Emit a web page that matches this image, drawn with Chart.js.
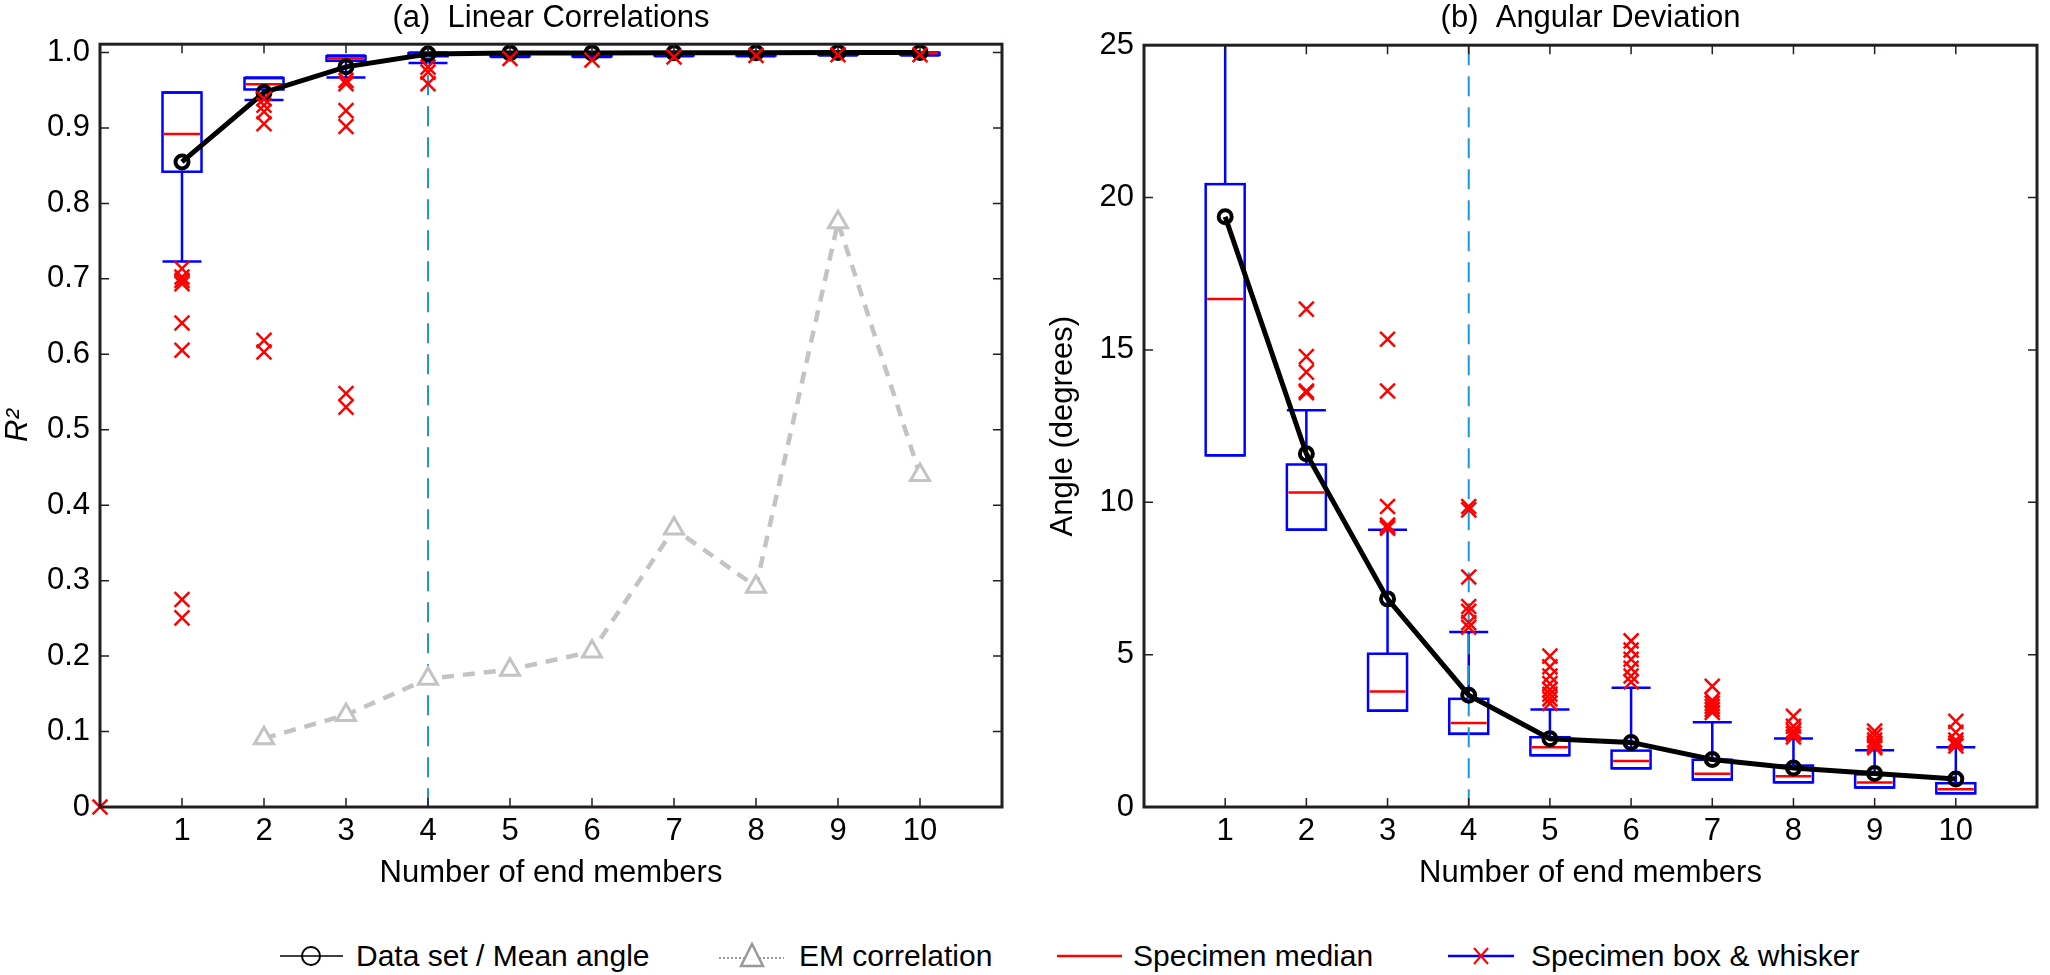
<!DOCTYPE html>
<html>
<head>
<meta charset="utf-8">
<script src="https://cdn.jsdelivr.net/npm/chart.js@4.4.1/dist/chart.umd.min.js"></script>
<style>
  html, body { margin: 0; padding: 0; background: #fff; }
  body { width: 2050px; height: 975px; position: relative; overflow: hidden;
         font-family: 'Liberation Sans', Arial, sans-serif; }
  canvas { position: absolute; top: 0; }
  #chartA { left: 0; }
  #chartB { left: 1025px; }
  .legend-item { position: absolute; top: 936px; height: 40px; display: flex;
                 align-items: center; font-size: 30px; color: #000; white-space: nowrap; }
</style>
</head>
<body>
<canvas id="chartA" width="1025" height="900"></canvas>
<canvas id="chartB" width="1025" height="900"></canvas>

<div class="legend-item" style="left:280px">
  <svg width="63" height="40"><line x1="0" y1="20" x2="63" y2="20" stroke="#000" stroke-width="1.5"/><circle cx="31" cy="20" r="9" fill="none" stroke="#000" stroke-width="2"/></svg>
  <span style="margin-left:13px">Data set / Mean angle</span>
</div>
<div class="legend-item" style="left:719px">
  <svg width="65" height="40"><line x1="0" y1="22" x2="65" y2="22" stroke="#777" stroke-width="1.5" stroke-dasharray="2,2"/><polygon points="33,8 44,30 22,30" fill="#fff" stroke="#999" stroke-width="2.5"/></svg>
  <span style="margin-left:15px">EM correlation</span>
</div>
<div class="legend-item" style="left:1057px">
  <svg width="65" height="40"><line x1="0" y1="20" x2="65" y2="20" stroke="#ff0000" stroke-width="2.5"/></svg>
  <span style="margin-left:11px">Specimen median</span>
</div>
<div class="legend-item" style="left:1448px">
  <svg width="66" height="40"><line x1="0" y1="20" x2="66" y2="20" stroke="#0000ff" stroke-width="2.5"/><line x1="26" y1="12" x2="40" y2="28" stroke="#ff0000" stroke-width="2"/><line x1="40" y1="12" x2="26" y2="28" stroke="#ff0000" stroke-width="2"/></svg>
  <span style="margin-left:17px">Specimen box &amp; whisker</span>
</div>

<script>
// number of end members
const categories = [1, 2, 3, 4, 5, 6, 7, 8, 9, 10];
const xTicks = [1, 2, 3, 4, 5, 6, 7, 8, 9, 10];
const selectedEM = 4;

// (a) linear correlations, R^2
const r2Ticks = [0, 0.1, 0.2, 0.3, 0.4, 0.5, 0.6, 0.7, 0.8, 0.9, 1.0];
const r2TickLabels = ['0', '0.1', '0.2', '0.3', '0.4', '0.5', '0.6', '0.7', '0.8', '0.9', '1.0'];
const r2Mean = [0.855, 0.947, 0.981, 0.998, 0.9995, 0.9995, 0.9997, 0.9998, 0.9999, 1.0];
const r2Q1 = [0.842, 0.951, 0.989, 0.995, 0.995, 0.995, 0.996, 0.996, 0.997, 0.997];
const r2Median = [0.892, 0.958, 0.992, 0.997, 0.998, 0.998, 0.998, 0.999, 0.999, 0.999];
const r2Q3 = [0.947, 0.966, 0.995, 0.999, 0.999, 0.999, 0.999, 0.9995, 0.9995, 0.9995];
const r2Low = [0.723, 0.937, 0.967, 0.986, 0.994, 0.994, 0.995, 0.995, 0.996, 0.996];
const r2High = [0.947, 0.967, 0.996, 1.0, 1.0, 1.0, 1.0, 1.0, 1.0, 1.0];
const r2Outliers = [
  [0.7135, 0.7024, 0.698, 0.6936, 0.6415, 0.6053, 0.2751, 0.2507],
  [0.9387, 0.930, 0.9216, 0.9056, 0.6185, 0.603],
  [0.963, 0.9585, 0.923, 0.902, 0.548, 0.530],
  [0.9806, 0.974, 0.9585],
  [0.992],
  [0.990],
  [0.994],
  [0.996],
  [0.997],
  [0.997]
];
const r2OutliersAtZero = [0];
const emCorrelation = [null, 0.091, 0.122, 0.170, 0.182, 0.206, 0.369, 0.292, 0.775, 0.440];

// (b) angular deviation, degrees
const angleTicks = [0, 5, 10, 15, 20, 25];
const angleMean = [19.37, 11.59, 6.83, 3.67, 2.24, 2.12, 1.56, 1.28, 1.10, 0.92];
const angleQ1 = [11.54, 9.10, 3.16, 2.40, 1.70, 1.27, 0.90, 0.81, 0.64, 0.45];
const angleMedian = [16.67, 10.32, 3.79, 2.76, 1.96, 1.51, 1.09, 1.01, 0.80, 0.58];
const angleQ3 = [20.44, 11.24, 5.03, 3.55, 2.29, 1.85, 1.55, 1.36, 1.07, 0.78];
const angleLow = [11.54, 9.10, 3.16, 2.40, 1.70, 1.27, 0.90, 0.81, 0.64, 0.45];
const angleHigh = [27.0, 13.02, 9.10, 5.74, 3.20, 3.91, 2.78, 2.25, 1.86, 1.96];
const angleOutliers = [
  [],
  [16.34, 14.78, 14.27, 13.65, 13.6],
  [15.35, 13.65, 9.86, 9.25, 9.2, 9.15],
  [9.86, 9.75, 7.55, 6.58, 6.42, 6.05, 5.9],
  [4.95, 4.6, 4.3, 4.05, 3.85, 3.7, 3.55, 3.4],
  [5.45, 5.15, 4.85, 4.55, 4.3, 4.1],
  [3.96, 3.5, 3.4, 3.3, 3.2, 3.1],
  [2.98, 2.65, 2.5, 2.4, 2.3],
  [2.49, 2.35, 2.2, 2.1, 2.0, 1.95],
  [2.81, 2.45, 2.2, 2.1, 2.0]
];

const FONT = { family: "'Liberation Sans', Arial, sans-serif", size: 31 };
const frameColor = '#231f20';
const boxColor = '#0000ff';
const medianColor = '#ff0000';
const refLineColor = '#1d97d4';
const boxWidth = 39;

function points(ys) {
  return categories.map((c, i) => ({ x: c, y: ys[i] }));
}
function outlierPoints(lists) {
  const out = [];
  lists.forEach((vals, i) => vals.forEach(v => out.push({ x: categories[i], y: v })));
  return out;
}

// boxes, whiskers, medians and the dashed marker line, placed with the chart scales
function boxPlugin(s) {
  return {
    id: 'boxes',
    beforeDatasetsDraw(chart) {
      const { ctx, chartArea: a, scales: { x, y } } = chart;
      ctx.save();
      ctx.beginPath();
      ctx.rect(a.left, a.top, a.width, a.height);
      ctx.clip();
      ctx.lineWidth = 2.5;
      categories.forEach((c, i) => {
        const cx = x.getPixelForValue(c);
        const h = boxWidth / 2;
        const y1 = y.getPixelForValue(s.q1[i]);
        const y3 = y.getPixelForValue(s.q3[i]);
        const ym = y.getPixelForValue(s.median[i]);
        const ylo = y.getPixelForValue(s.low[i]);
        const yhi = y.getPixelForValue(s.high[i]);
        ctx.strokeStyle = boxColor;
        ctx.beginPath();
        ctx.moveTo(cx, y3); ctx.lineTo(cx, yhi);
        ctx.moveTo(cx, y1); ctx.lineTo(cx, ylo);
        ctx.moveTo(cx - h, yhi); ctx.lineTo(cx + h, yhi);
        ctx.moveTo(cx - h, ylo); ctx.lineTo(cx + h, ylo);
        ctx.stroke();
        ctx.strokeRect(cx - h, y3, 2 * h, y1 - y3);
        ctx.strokeStyle = medianColor;
        ctx.beginPath();
        ctx.moveTo(cx - h + 1.5, ym); ctx.lineTo(cx + h - 1.5, ym);
        ctx.stroke();
      });
      const px = x.getPixelForValue(selectedEM);
      ctx.setLineDash([20, 11]);
      ctx.strokeStyle = refLineColor;
      ctx.lineWidth = 2;
      ctx.beginPath();
      ctx.moveTo(px, a.top); ctx.lineTo(px, a.bottom);
      ctx.stroke();
      ctx.restore();
    }
  };
}

// box frame with inward tick marks on all four sides
const framePlugin = {
  id: 'frame',
  afterDraw(chart) {
    const { ctx, chartArea: a, scales: { x, y } } = chart;
    ctx.save();
    ctx.strokeStyle = frameColor;
    ctx.lineWidth = 1.5;
    ctx.beginPath();
    x.ticks.forEach(t => {
      const px = x.getPixelForValue(t.value);
      ctx.moveTo(px, a.bottom); ctx.lineTo(px, a.bottom - 9);
      ctx.moveTo(px, a.top); ctx.lineTo(px, a.top + 9);
    });
    y.ticks.forEach(t => {
      const py = y.getPixelForValue(t.value);
      ctx.moveTo(a.left, py); ctx.lineTo(a.left + 9, py);
      ctx.moveTo(a.right, py); ctx.lineTo(a.right - 9, py);
    });
    ctx.stroke();
    ctx.lineWidth = 3;
    ctx.strokeRect(a.left, a.top, a.width, a.height);
    ctx.restore();
  }
};

function makeChart(id, cfg) {
  return new Chart(document.getElementById(id), {
    type: 'line',
    data: { datasets: cfg.datasets },
    options: {
      responsive: false,
      animation: false,
      devicePixelRatio: 1,
      events: [],
      layout: { padding: { left: 0, right: cfg.padRight, top: 0, bottom: 0 } },
      plugins: {
        legend: { display: false },
        tooltip: { enabled: false },
        title: {
          display: true, text: cfg.title, fullSize: false, color: '#000',
          font: { ...FONT, weight: 'normal' }, padding: { top: 0, bottom: cfg.titlePad }
        }
      },
      scales: {
        x: {
          type: 'linear', min: 0, max: 11,
          afterBuildTicks: s => { s.ticks = xTicks.map(v => ({ value: v })); },
          afterFit: s => { s.height = 93; },
          grid: { display: false, drawTicks: false },
          border: { display: false },
          ticks: { font: FONT, color: '#000', padding: 6, maxRotation: 0, autoSkip: false },
          title: { display: true, text: 'Number of end members', color: '#000', font: FONT,
                   padding: { top: 0, bottom: 8 } }
        },
        y: {
          type: 'linear', min: 0, max: cfg.yMax,
          afterBuildTicks: s => { s.ticks = cfg.yTicks.map(v => ({ value: v })); },
          afterFit: s => { s.width = cfg.yWidth; },
          grid: { display: false, drawTicks: false },
          border: { display: false },
          ticks: { font: FONT, color: '#000', padding: 10, autoSkip: false,
                   callback: (v, i) => cfg.yLabels[i] },
          title: { display: true, text: cfg.yTitle, color: '#000',
                   font: { ...FONT, style: cfg.yTitleStyle }, padding: { top: cfg.yTitlePad, bottom: 0 } }
        }
      }
    },
    plugins: [boxPlugin(cfg.stats), framePlugin]
  });
}

const outlierStyle = {
  type: 'scatter', showLine: false, clip: false,
  pointStyle: 'crossRot', pointRadius: 10.5, pointBorderWidth: 2.5,
  borderColor: '#ff0000', backgroundColor: '#ff0000'
};
const meanStyle = {
  type: 'line', borderColor: '#000', borderWidth: 5, tension: 0,
  pointStyle: 'circle', pointRadius: 6.5, pointBorderWidth: 4,
  pointBorderColor: '#000', pointBackgroundColor: 'rgba(0,0,0,0)'
};

makeChart('chartA', {
  title: '(a)  Linear Correlations',
  titlePad: 7,
  padRight: 23,
  yWidth: 100,
  yMax: 1.011,
  yTicks: r2Ticks,
  yLabels: r2TickLabels,
  yTitle: 'R²',
  yTitleStyle: 'italic',
  yTitlePad: 0,
  stats: { q1: r2Q1, median: r2Median, q3: r2Q3, low: r2Low, high: r2High },
  datasets: [
    { ...outlierStyle, label: 'Specimen outliers',
      data: outlierPoints(r2Outliers).concat(r2OutliersAtZero.map(v => ({ x: 0, y: v }))) },
    { ...meanStyle, label: 'Data set', data: points(r2Mean) },
    { type: 'line', label: 'EM correlation', data: points(emCorrelation),
      borderColor: '#c3c3c3', borderWidth: 4.5, borderDash: [12, 9], tension: 0, spanGaps: false,
      pointStyle: 'triangle', pointRadius: 11, pointBorderWidth: 3,
      pointBorderColor: '#c3c3c3', pointBackgroundColor: '#fff' }
  ]
});

makeChart('chartB', {
  title: '(b)  Angular Deviation',
  titlePad: 8,
  padRight: 4,
  yWidth: 119,
  yMax: 25,
  yTicks: angleTicks,
  yLabels: angleTicks.map(String),
  yTitle: 'Angle (degrees)',
  yTitleStyle: 'normal',
  yTitlePad: 20,
  stats: { q1: angleQ1, median: angleMedian, q3: angleQ3, low: angleLow, high: angleHigh },
  datasets: [
    { ...outlierStyle, label: 'Specimen outliers', data: outlierPoints(angleOutliers) },
    { ...meanStyle, label: 'Mean angle', data: points(angleMean) }
  ]
});
</script>
</body>
</html>
